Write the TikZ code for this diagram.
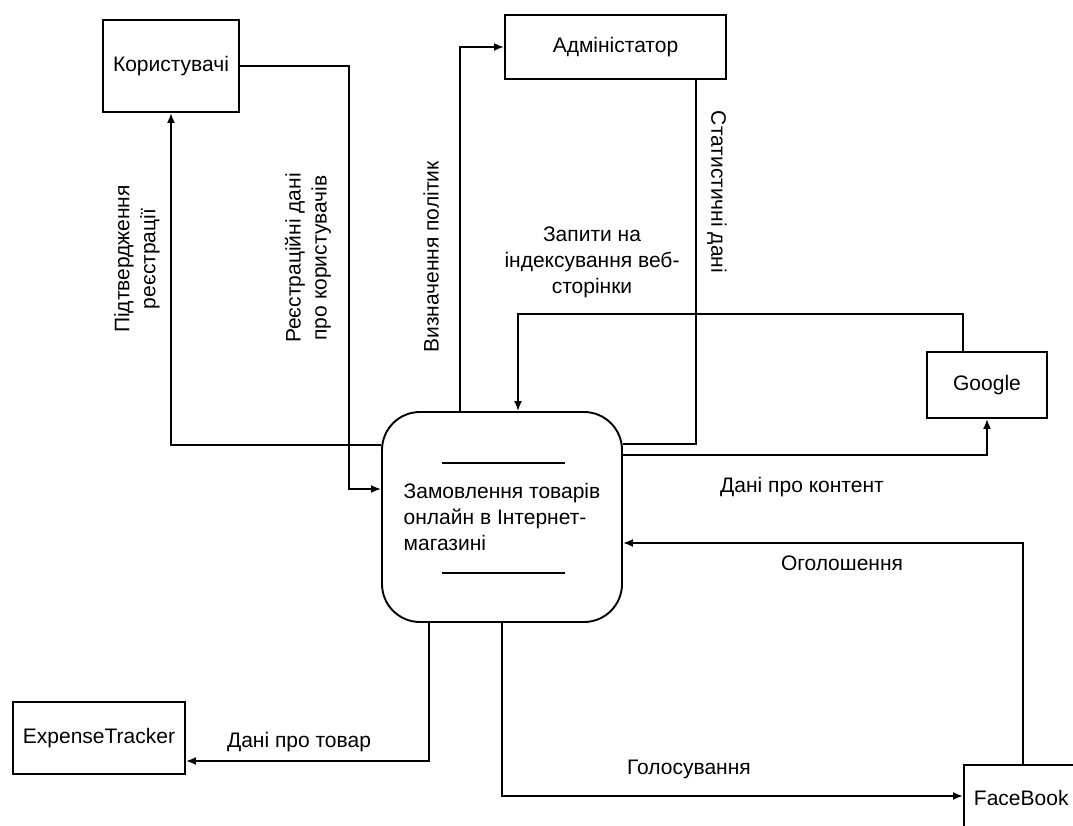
\documentclass[tikz,border=0pt]{standalone}
\usepackage{fontspec}
\setmainfont{Liberation Sans}
\usetikzlibrary{arrows.meta,calc}
\begin{document}
\begin{tikzpicture}[x=1pt,y=-1pt,
  every node/.style={font=\fontsize{21}{26}\selectfont},
  box/.style={draw, line width=1.9pt, inner sep=0pt},
  proc/.style={draw, line width=1.9pt, rounded corners=38pt, inner sep=0pt, minimum width=240pt, minimum height=210pt, align=left},
  flow/.style={line width=1.9pt},
  arr/.style={flow, -{Latex[length=10pt,width=8pt]}},
  lbl/.style={align=center, inner sep=0pt}]
\useasboundingbox (0,0) rectangle (1073,826);
\clip (0,0) rectangle (1073,826);
\fill[white] (0,0) rectangle (1073,826);

% nodes
\node[box, minimum width=136pt, minimum height=92pt] (users) at (171,66) {Користувачі};
\node[box, minimum width=221pt, minimum height=64pt] (admin) at (615.5,47) {Адміністатор};
\node[proc] (central) at (502,517) {Замовлення товарів\\онлайн в Інтернет-\\магазині};
\node[box, minimum width=120pt, minimum height=66pt] (google) at (987,385) {Google};
\node[box, minimum width=172pt, minimum height=72pt] (expense) at (99,738) {ExpenseTracker};
\node[box, anchor=north west, minimum width=150pt, minimum height=66pt, text width=130pt, align=left, inner xsep=10pt] (facebook) at (963,764) {FaceBook};

% inner bars of the process
\draw[flow] ($(central.center)+(-60,-54)$) -- ++(123,0);
\draw[flow] ($(central.center)+(-60,56)$) -- ++(123,0);

% connectors
\draw[arr] (users.east) -- (349,66) |- (central.west |- 0,489);
\draw[arr] (central.west |- 0,445) -| (users.south);
\draw[arr] (central.north -| 460,0) |- (admin.west);
\draw[flow] (admin.south -| 696,0) |- (central.east |- 0,444);
\draw[arr] (google.north -| 963,0) -- (963,314) -| (central.north -| 518,0);
\draw[arr] (central.east |- 0,455) -| (google.south);
\draw[arr] (facebook.north -| 1023,0) |- (central.east |- 0,543);
\draw[arr] (central.south -| 502,0) |- (facebook.west |- 0,796);
\draw[arr] (central.south -| 429,0) |- (expense.east |- 0,761);

% labels
\node[lbl, rotate=90] (lconf) at (137,259) {Підтвердження\\реєстрації};
\node[lbl, rotate=90] (lreg) at (308,258) {Реєстраційні дані\\про користувачів};
\node[lbl, rotate=90] (lpol) at (431,257) {Визначення політик};
\node[lbl, rotate=-90] (lstat) at (717,192) {Статистичні дані};
\node[lbl] (lidx) at (592,262) {Запити на\\індексування веб-\\сторінки};
\node[lbl] (lcont) at (802,487) {Дані про контент};
\node[lbl] (lads) at (842,563) {Оголошення};
\node[lbl] (lvote) at (689,769) {Голосування};
\node[lbl] (lgoods) at (299,742) {Дані про товар};
\end{tikzpicture}
\end{document}
